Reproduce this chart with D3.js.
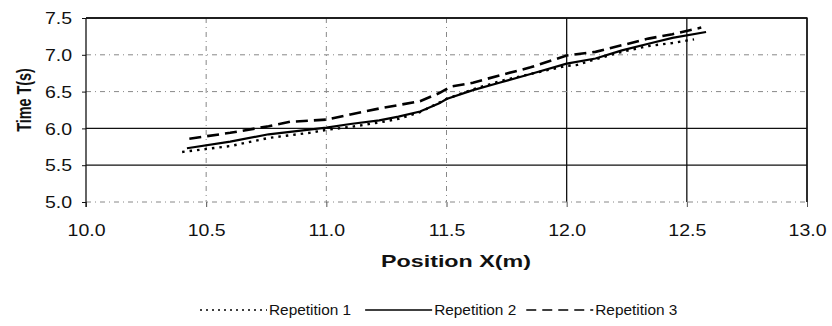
<!DOCTYPE html>
<html>
<head>
<meta charset="utf-8">
<script src="https://cdn.jsdelivr.net/npm/d3@7"></script>
<style>
  html, body { margin: 0; padding: 0; background: #fff; }
  svg { display: block; font-family: "Liberation Sans", Arial, sans-serif; }
</style>
</head>
<body>
<svg id="chart" width="832" height="326"></svg>
<script>
// Timing runs: position along the track (m) vs elapsed time (s)
const seriesNames = ["Repetition 1", "Repetition 2", "Repetition 3"];
const rep1X = [10.40, 10.60, 10.76, 10.93, 11.00, 11.10, 11.22, 11.30, 11.39, 11.50, 11.61, 11.72, 11.85, 12.00, 12.04, 12.12, 12.23, 12.34, 12.44, 12.53];
const rep1T = [5.68, 5.76, 5.87, 5.94, 5.98, 6.02, 6.08, 6.13, 6.22, 6.40, 6.53, 6.64, 6.74, 6.85, 6.86, 6.94, 7.04, 7.12, 7.16, 7.21];
const rep2X = [10.42, 10.60, 10.76, 11.00, 11.10, 11.22, 11.30, 11.39, 11.47, 11.50, 11.61, 11.72, 11.85, 12.00, 12.12, 12.23, 12.34, 12.44, 12.58];
const rep2T = [5.73, 5.82, 5.92, 6.01, 6.06, 6.11, 6.16, 6.23, 6.34, 6.40, 6.52, 6.62, 6.74, 6.88, 6.95, 7.06, 7.15, 7.23, 7.31];
const rep3X = [10.43, 10.60, 10.76, 10.85, 11.00, 11.10, 11.22, 11.39, 11.47, 11.52, 11.61, 11.72, 11.85, 12.00, 12.12, 12.23, 12.34, 12.44, 12.56];
const rep3T = [5.86, 5.94, 6.03, 6.09, 6.12, 6.19, 6.27, 6.37, 6.48, 6.57, 6.62, 6.72, 6.83, 6.99, 7.04, 7.13, 7.22, 7.28, 7.37];
const xTicks = [10.0, 10.5, 11.0, 11.5, 12.0, 12.5, 13.0];
const yTicks = [5.0, 5.5, 6.0, 6.5, 7.0, 7.5];
const xTitle = "Position X(m)";
const yTitle = "Time T(s)";

const svg = d3.select("#chart");
const plot = { left: 86, right: 807, top: 18, bottom: 202 };

const x = d3.scaleLinear().domain([10, 13]).range([plot.left, plot.right]);
const y = d3.scaleLinear().domain([5, 7.5]).range([plot.bottom, plot.top]);

// grid: some lines print solid, others faint dash-dot
const solidX = new Set([12.0, 12.5, 13.0]);
const solidY = new Set([5.5, 6.0, 7.5]);
const grid = svg.append("g");
grid.selectAll("line.gx").data(xTicks.filter(v => v > 10)).join("line")
  .attr("x1", d => x(d)).attr("x2", d => x(d))
  .attr("y1", plot.top).attr("y2", plot.bottom)
  .attr("stroke", d => solidX.has(d) ? "#111" : "#888")
  .attr("stroke-width", d => solidX.has(d) ? 1.3 : 1)
  .attr("stroke-dasharray", d => solidX.has(d) ? null : "5,4,1,4");
grid.selectAll("line.gy").data(yTicks).join("line")
  .attr("x1", plot.left).attr("x2", plot.right)
  .attr("y1", d => y(d)).attr("y2", d => y(d))
  .attr("stroke", d => solidY.has(d) ? "#111" : "#888")
  .attr("stroke-width", d => solidY.has(d) ? 1.3 : 1)
  .attr("stroke-dasharray", d => solidY.has(d) ? null : "5,4,1,4");

// axes
const fmt = d3.format(".1f");
const gx = svg.append("g").attr("transform", `translate(0,${plot.bottom})`)
  .call(d3.axisBottom(x).tickValues(xTicks).tickFormat(fmt).tickSize(5).tickPadding(4));
gx.select(".domain").remove();
gx.selectAll(".tick line").attr("stroke", "#555");
gx.selectAll(".tick text")
  .attr("font-size", 16).attr("fill", "#111")
  .attr("font-family", "Liberation Sans, Arial, sans-serif")
  .attr("y", 0).attr("dy", 0)
  .attr("transform", "translate(0,34) scale(1.22,1)");

const gy = svg.append("g").attr("transform", `translate(${plot.left},0)`)
  .call(d3.axisLeft(y).tickValues(yTicks).tickFormat(fmt).tickSize(4).tickPadding(0));
gy.select(".domain").attr("stroke", "#111").attr("stroke-width", 1.3)
  .attr("d", `M0,${plot.top}V${plot.bottom + 5}`);
gy.selectAll(".tick line").attr("stroke", "#111");
gy.selectAll(".tick text")
  .attr("font-size", 16).attr("fill", "#111")
  .attr("font-family", "Liberation Sans, Arial, sans-serif")
  .attr("x", 0).attr("dy", "0.36em")
  .attr("transform", "translate(-14,0) scale(1.22,1)");

// frame top/right
svg.append("path")
  .attr("d", `M${plot.left},${plot.top}H${plot.right}V${plot.bottom}`)
  .attr("fill", "none").attr("stroke", "#111").attr("stroke-width", 1.3);

// series
const styles = [
  { dash: "2.5,5", width: 2.4 },
  { dash: null, width: 2.2 },
  { dash: "12,6", width: 2.6 }
];
const series = [
  { name: seriesNames[0], pts: rep1X.map((v, i) => [v, rep1T[i]]) },
  { name: seriesNames[1], pts: rep2X.map((v, i) => [v, rep2T[i]]) },
  { name: seriesNames[2], pts: rep3X.map((v, i) => [v, rep3T[i]]) }
];
const line = d3.line().x(d => x(d[0])).y(d => y(d[1])).curve(d3.curveLinear);
svg.append("g").selectAll("path").data(series).join("path")
  .attr("d", d => line(d.pts))
  .attr("fill", "none").attr("stroke", "#000")
  .attr("stroke-width", (d, i) => styles[i].width)
  .attr("stroke-dasharray", (d, i) => styles[i].dash);

// axis titles
svg.append("text")
  .attr("x", 456).attr("y", 267)
  .attr("text-anchor", "middle")
  .attr("font-size", 16.5).attr("font-weight", "bold").attr("fill", "#111")
  .attr("textLength", 150).attr("lengthAdjust", "spacingAndGlyphs")
  .text(xTitle);
svg.append("text")
  .attr("x", 0).attr("y", 0)
  .attr("transform", "translate(31,100) rotate(-90) scale(0.72,1)")
  .attr("text-anchor", "middle")
  .attr("font-size", 20).attr("font-weight", "bold").attr("fill", "#111")
  .text(yTitle);

// legend
const legend = svg.append("g").attr("transform", "translate(200,310)");
const sampleW = 67;
const gaps = [14, 10, 0];
let cx = 0;
series.forEach((s, i) => {
  legend.append("line")
    .attr("x1", cx).attr("x2", cx + sampleW).attr("y1", 0).attr("y2", 0)
    .attr("stroke", "#000").attr("stroke-width", 1.6)
    .attr("stroke-dasharray", i === 0 ? "2,4" : i === 2 ? "10,6" : null);
  const t = legend.append("text")
    .attr("x", 0).attr("y", 0).attr("dy", "0.36em")
    .attr("font-size", 14).attr("fill", "#111")
    .attr("transform", `translate(${cx + sampleW + 2},0) scale(1.1,1)`)
    .text(s.name);
  const w = t.node().getComputedTextLength() * 1.1;
  cx += sampleW + 2 + w + gaps[i];
});
</script>
</body>
</html>
